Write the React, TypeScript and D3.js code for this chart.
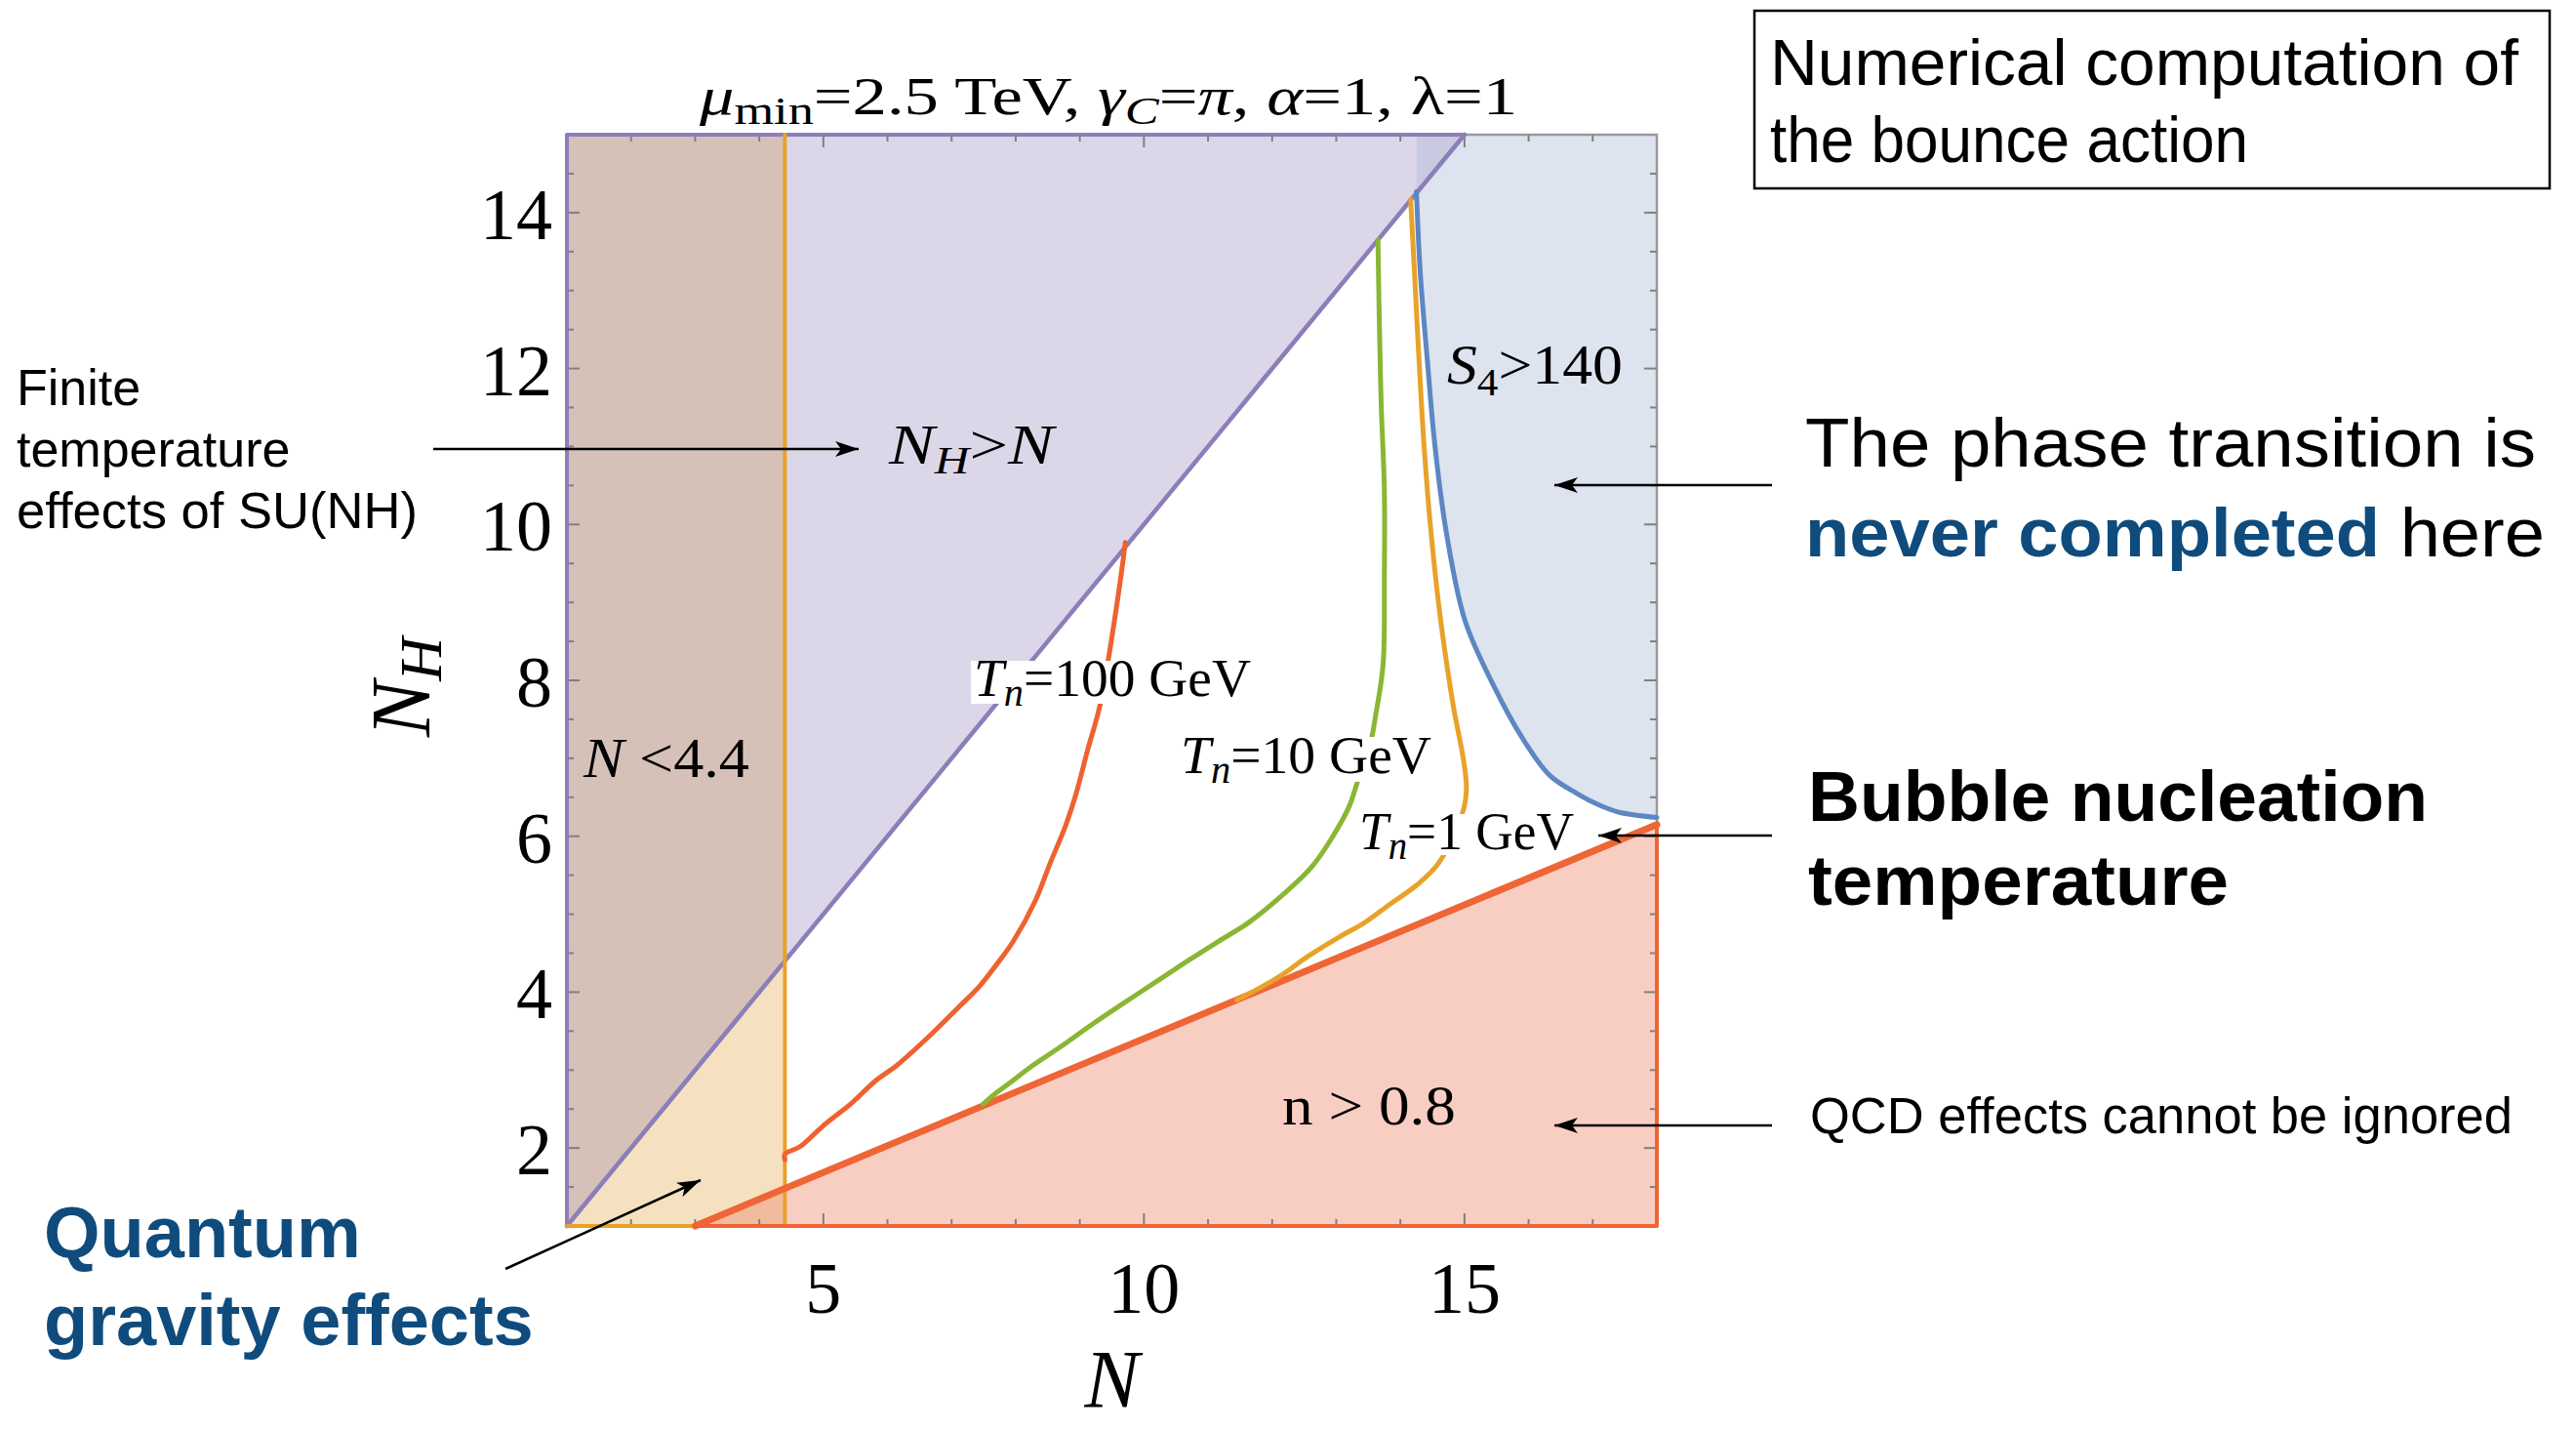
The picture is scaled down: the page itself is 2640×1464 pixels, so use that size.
import React from "react";
import * as d3 from "d3";

const W = 2640;
const H = 1464;

// Axis extents and ticks
const nDomain: [number, number] = [1, 18];
const nhDomain: [number, number] = [1, 15];
const xMajorTicks = [5, 10, 15];
const xMinorTicks = [2, 3, 4, 6, 7, 8, 9, 11, 12, 13, 14, 16, 17];
const yMajorTicks = [2, 4, 6, 8, 10, 12, 14];
const yMinorTicks = [1.5, 2.5, 3, 3.5, 4.5, 5, 5.5, 6.5, 7, 7.5, 8.5, 9, 9.5, 10.5, 11, 11.5, 12.5, 13, 13.5, 14.5];

// Region boundaries
const planckN = 4.4; // N < 4.4 strip
const qcdLineN = [3, 18]; // n > 0.8 boundary
const qcdLineNH = [1, 6.15];
const s4TopN = 14.25; // S4 > 140 region, vertical edge near the top
const s4N = [14.25, 14.31, 14.42, 14.54, 14.72, 15.01, 15.45, 15.91, 16.33, 16.75, 17.1, 17.4, 18.0];
const s4NH = [14.27, 13.23, 12.11, 11.0, 9.88, 8.76, 7.94, 7.25, 6.78, 6.55, 6.4, 6.31, 6.24];

// Nucleation temperature contours
const tn100N = [9.71, 9.59, 9.32, 9.12, 8.95, 8.78, 8.54, 8.31, 7.96, 7.67, 7.44, 7.09, 6.62, 6.16, 5.81, 5.46, 4.99, 4.64, 4.4, 4.4];
const tn100NH = [9.77, 9.04, 7.7, 7.1, 6.57, 6.14, 5.66, 5.18, 4.65, 4.32, 4.08, 3.79, 3.41, 3.07, 2.86, 2.59, 2.28, 2.02, 1.92, 1.85];
const tn10N = [13.65, 13.67, 13.7, 13.75, 13.75, 13.73, 13.61, 13.55, 13.32, 13.2, 12.91, 12.62, 12.21, 11.63, 11.16, 10.7, 10.35, 10.0, 9.65, 9.18, 8.72, 8.25, 7.9, 7.67, 7.49];
const tn10NH = [13.65, 12.67, 11.56, 10.44, 9.32, 8.2, 7.53, 7.26, 6.67, 6.38, 5.95, 5.61, 5.28, 4.89, 4.65, 4.41, 4.22, 4.03, 3.84, 3.58, 3.31, 3.05, 2.83, 2.69, 2.56];
const tn1N = [14.16, 14.22, 14.29, 14.37, 14.48, 14.63, 14.83, 14.98, 15.03, 14.98, 14.6, 14.25, 13.84, 13.44, 13.03, 12.56, 12.15, 11.8, 11.45];
const tn1NH = [14.17, 13.23, 12.12, 11.0, 9.88, 8.76, 7.65, 7.0, 6.62, 6.33, 5.66, 5.37, 5.13, 4.89, 4.7, 4.46, 4.22, 4.05, 3.9];

const SERIF = "'Liberation Serif', 'DejaVu Serif', serif";
const SANS = "'Liberation Sans', Arial, sans-serif";
const BLUE_TEXT = "#0f4c7d";

const x = d3.scaleLinear().domain(nDomain).range([581, 1698]);
const y = d3.scaleLinear().domain(nhDomain).range([1256, 138]);
const qcd = d3.scaleLinear().domain(qcdLineN).range(qcdLineNH);

type P = [number, number];
const toPts = (ns: number[], nhs: number[]): P[] => ns.map((n, i) => [x(n), y(nhs[i])] as P);
const dataPts = (arr: number[][]): P[] => arr.map(([n, nh]) => [x(n), y(nh)] as P);
const polygon = (p: P[]) => "M" + p.map((q) => q.join(",")).join("L") + "Z";
const polyline = (p: P[]) => "M" + p.map((q) => q.join(",")).join("L");
const smooth = d3.line<P>().curve(d3.curveCatmullRom.alpha(0.5));

export default function App() {
  const [n0, n1] = nDomain;
  const [h0, h1] = nhDomain;

  // Region polygons (data coordinates mapped through the scales)
  const purpleArea = dataPts([[n0, h0], [h1, h1], [n0, h1]]);
  const yellowArea = dataPts([[n0, h0], [planckN, h0], [planckN, planckN]]);
  const brownArea = dataPts([[n0, h0], [planckN, planckN], [planckN, h1], [n0, h1]]);
  const redArea = dataPts([[qcdLineN[0], qcdLineNH[0]], [n1, h0], [n1, qcd(n1)]]);
  const redYellow = dataPts([[qcdLineN[0], h0], [planckN, h0], [planckN, qcd(planckN)]]);
  const s4Curve = toPts(s4N, s4NH);
  const blueArea: P[] = [
    [x(s4TopN), y(h1)],
    [x(n1), y(h1)],
    ...s4Curve.slice().reverse(),
  ];
  const bluePurple = dataPts([[s4TopN, s4NH[0]], [s4TopN, h1], [h1, h1]]);

  return (
    <svg
      width={W}
      height={H}
      viewBox={`0 0 ${W} ${H}`}
      style={{ position: "absolute", left: 0, top: 0, background: "#fff" }}
    >
      <defs>
        <marker id="ah" markerUnits="userSpaceOnUse" markerWidth="26" markerHeight="18" refX="24" refY="9" orient="auto">
          <path d="M0,1 L24,9 L0,17 L6,9 Z" fill="#000" />
        </marker>
        <clipPath id="plotClip">
          <rect x={x(n0)} y={y(h1)} width={x(n1) - x(n0)} height={y(h0) - y(h1)} />
        </clipPath>
      </defs>

      <rect x={0} y={0} width={W} height={H} fill="#fff" />

      {/* Regions */}
      <g clipPath="url(#plotClip)">
        <path d={polygon(purpleArea)} fill="#dcd7e8" />
        <path d={polygon(brownArea)} fill="#d5c1b8" />
        <path d={polygon(yellowArea)} fill="#f5e1c0" />
        <path d={polygon(redArea)} fill="#f9cec2" />
        <path d={polygon(redYellow)} fill="#f1bb9e" />
        <path d={polygon(blueArea)} fill="#dde3ef" />
        <path d={polygon(bluePurple)} fill="#c9c9e1" />
      </g>

      {/* Frame */}
      <rect x={x(n0)} y={y(h1)} width={x(n1) - x(n0)} height={y(h0) - y(h1)} fill="none" stroke="#9a9a9a" strokeWidth={2.5} />

      {/* Ticks on all four sides */}
      <g stroke="#808080" strokeWidth={2}>
        {xMajorTicks.concat(xMinorTicks).map((v) => {
          const len = xMajorTicks.includes(v) ? 13 : 7;
          return (
            <g key={"xt" + v}>
              <line x1={x(v)} x2={x(v)} y1={y(h0)} y2={y(h0) - len} />
              <line x1={x(v)} x2={x(v)} y1={y(h1)} y2={y(h1) + len} />
            </g>
          );
        })}
        {yMajorTicks.concat(yMinorTicks).map((v) => {
          const len = yMajorTicks.includes(v) ? 13 : 7;
          return (
            <g key={"yt" + v}>
              <line x1={x(n0)} x2={x(n0) + len} y1={y(v)} y2={y(v)} />
              <line x1={x(n1)} x2={x(n1) - len} y1={y(v)} y2={y(v)} />
            </g>
          );
        })}
      </g>

      {/* Region boundaries */}
      <g fill="none" strokeLinejoin="round" strokeLinecap="round">
        <path d={polyline(dataPts([[n0, h0], [n0, h1], [h1, h1]]))} stroke="#8b7eb9" strokeWidth={4} />
        <path d={polyline(dataPts([[n0, h0], [h1, h1]]))} stroke="#8b7eb9" strokeWidth={4.5} />
        <path d={polyline(dataPts([[planckN, h0], [planckN, h1]]))} stroke="#e8a22c" strokeWidth={4} />
        <path d={polyline(dataPts([[n0, h0], [qcdLineN[0], h0]]))} stroke="#e8a22c" strokeWidth={4} />
        <path d={polyline(dataPts([[qcdLineN[0], h0], [n1, h0], [n1, qcd(n1)]]))} stroke="#ee6536" strokeWidth={4} />
        <path d={polyline(dataPts([[qcdLineN[0], qcdLineNH[0]], [qcdLineN[1], qcdLineNH[1]]]))} stroke="#ee6536" strokeWidth={7} />
        <path d={smooth(s4Curve) || ""} stroke="#5d87c2" strokeWidth={5} />
      </g>

      {/* Nucleation contours */}
      <g fill="none" strokeWidth={5} strokeLinejoin="round" strokeLinecap="round">
        <path d={smooth(toPts(tn100N, tn100NH)) || ""} stroke="#ee6230" />
        <path d={smooth(toPts(tn10N, tn10NH)) || ""} stroke="#8ab634" />
        <path d={smooth(toPts(tn1N, tn1NH)) || ""} stroke="#e8a22a" />
      </g>

      {/* Contour labels on white */}
      <g fontFamily={SERIF} fontSize={55} fill="#000">
        <rect x={995} y={677} width={290} height={44} fill="#fff" />
        <text x={998} y={713} textLength={284} lengthAdjust="spacingAndGlyphs">
          <tspan fontStyle="italic">T</tspan>
          <tspan fontStyle="italic" fontSize={40} dy={10}>n</tspan>
          <tspan dy={-10}>=100 GeV</tspan>
        </text>
        <rect x={1206} y={755} width={264} height={46} fill="#fff" />
        <text x={1210} y={792} textLength={257} lengthAdjust="spacingAndGlyphs">
          <tspan fontStyle="italic">T</tspan>
          <tspan fontStyle="italic" fontSize={40} dy={10}>n</tspan>
          <tspan dy={-10}>=10 GeV</tspan>
        </text>
        <rect x={1389} y={834} width={225} height={42} fill="#fff" />
        <text x={1393} y={870} textLength={220} lengthAdjust="spacingAndGlyphs">
          <tspan fontStyle="italic">T</tspan>
          <tspan fontStyle="italic" fontSize={40} dy={10}>n</tspan>
          <tspan dy={-10}>=1 GeV</tspan>
        </text>
      </g>

      {/* Region labels */}
      <g fontFamily={SERIF} fontSize={57} fill="#000">
        <text x={911} y={475} textLength={169} lengthAdjust="spacingAndGlyphs">
          <tspan fontStyle="italic">N</tspan>
          <tspan fontStyle="italic" fontSize={40} dy={10}>H</tspan>
          <tspan dy={-10}>&gt;</tspan>
          <tspan fontStyle="italic">N</tspan>
        </text>
        <text x={1483} y={393} textLength={180} lengthAdjust="spacingAndGlyphs">
          <tspan fontStyle="italic">S</tspan>
          <tspan fontSize={40} dy={12}>4</tspan>
          <tspan dy={-12}>&gt;140</tspan>
        </text>
        <text x={598} y={796} textLength={170} lengthAdjust="spacingAndGlyphs">
          <tspan fontStyle="italic">N</tspan>
          <tspan> &lt;4.4</tspan>
        </text>
        <text x={1314} y={1152} textLength={178} lengthAdjust="spacingAndGlyphs">n &gt; 0.8</text>
      </g>

      {/* Tick labels */}
      <g fontFamily={SERIF} fontSize={74} fill="#000">
        {xMajorTicks.map((v) => (
          <text key={"xl" + v} x={x(v)} y={1345} textAnchor="middle">{v}</text>
        ))}
        {yMajorTicks.map((v) => (
          <text key={"yl" + v} x={566} y={y(v) + 27} textAnchor="end">{v}</text>
        ))}
      </g>

      {/* Axis titles */}
      <text x={(x(n0) + x(n1)) / 2} y={1442} textAnchor="middle" fontFamily={SERIF} fontStyle="italic" fontSize={84}>N</text>
      <text
        transform={`translate(440, ${(y(h0) + y(h1)) / 2 + 58}) rotate(-90)`}
        fontFamily={SERIF}
        fontSize={86}
        fontStyle="italic"
      >
        <tspan>N</tspan>
        <tspan fontSize={62} dy={12}>H</tspan>
      </text>

      {/* Plot title */}
      <text x={717} y={117} fontFamily={SERIF} fontSize={54} textLength={838} lengthAdjust="spacingAndGlyphs">
        <tspan fontStyle="italic">μ</tspan>
        <tspan fontSize={40} dy={10}>min</tspan>
        <tspan dy={-10}>=2.5 TeV, </tspan>
        <tspan fontStyle="italic">γ</tspan>
        <tspan fontStyle="italic" fontSize={40} dy={10}>C</tspan>
        <tspan dy={-10}>=</tspan>
        <tspan fontStyle="italic">π</tspan>
        <tspan>, </tspan>
        <tspan fontStyle="italic">α</tspan>
        <tspan>=1, </tspan>
        <tspan>λ=1</tspan>
      </text>

      {/* Annotations */}
      <g fontFamily={SANS} fill="#000">
        <rect x={1798} y={11} width={815} height={182} fill="none" stroke="#000" strokeWidth={2.5} />
        <text x={1814} y={87} fontSize={66} textLength={767} lengthAdjust="spacingAndGlyphs">Numerical computation of</text>
        <text x={1814} y={166} fontSize={66} textLength={490} lengthAdjust="spacingAndGlyphs">the bounce action</text>

        <text x={1850} y={478} fontSize={71} textLength={749} lengthAdjust="spacingAndGlyphs">The phase transition is</text>
        <text x={1850} y={570} fontSize={71} textLength={758} lengthAdjust="spacingAndGlyphs">
          <tspan fontWeight="bold" fill={BLUE_TEXT}>never completed</tspan>
          <tspan> here</tspan>
        </text>

        <text x={1853} y={841} fontSize={72} fontWeight="bold" textLength={635} lengthAdjust="spacingAndGlyphs">Bubble nucleation</text>
        <text x={1853} y={927} fontSize={72} fontWeight="bold" textLength={431} lengthAdjust="spacingAndGlyphs">temperature</text>

        <text x={1855} y={1161} fontSize={51} textLength={720} lengthAdjust="spacingAndGlyphs">QCD effects cannot be ignored</text>

        <text x={17} y={415} fontSize={52}>Finite</text>
        <text x={17} y={478} fontSize={52}>temperature</text>
        <text x={17} y={541} fontSize={52} textLength={411} lengthAdjust="spacingAndGlyphs">effects of SU(NH)</text>

        <text x={45} y={1288} fontSize={74} fontWeight="bold" fill={BLUE_TEXT}>Quantum</text>
        <text x={45} y={1378} fontSize={74} fontWeight="bold" fill={BLUE_TEXT}>gravity effects</text>
      </g>

      {/* Arrows */}
      <g stroke="#000" strokeWidth={2.5} markerEnd="url(#ah)">
        <line x1={444} y1={460} x2={880} y2={460} />
        <line x1={1816} y1={497} x2={1593} y2={497} />
        <line x1={1816} y1={856} x2={1638} y2={856} />
        <line x1={1816} y1={1153} x2={1593} y2={1153} />
        <line x1={518} y1={1300} x2={718} y2={1209} />
      </g>
    </svg>
  );
}
